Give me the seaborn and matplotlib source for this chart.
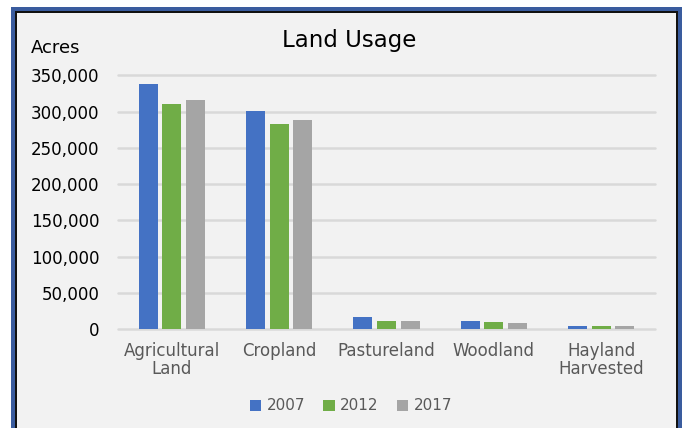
import matplotlib
matplotlib.use("Agg")
import matplotlib.pyplot as plt
from matplotlib.patches import Rectangle
from matplotlib.ticker import FuncFormatter
import seaborn as sns
import pandas as pd

# values (acres)
categories = ["Agricultural\nLand", "Cropland", "Pastureland", "Woodland", "Hayland\nHarvested"]
years = ["2007", "2012", "2017"]
acres_2007 = [337700, 300800, 17400, 11900, 4500]
acres_2012 = [310300, 282900, 11900, 10000, 4400]
acres_2017 = [315600, 288000, 11900, 8300, 4300]
colors = ["#4472C4", "#70AD47", "#A5A5A5"]

rows = []
for year, vals in zip(years, [acres_2007, acres_2012, acres_2017]):
    for cat, v in zip(categories, vals):
        rows.append({"category": cat, "year": year, "acres": v})
df = pd.DataFrame(rows)

sns.set_style("white")
plt.rcParams["font.family"] = ["DejaVu Sans"]

W, H = 683, 428
fig = plt.figure(figsize=(W / 100, H / 100), dpi=100, facecolor="white")

# frame: blue outer, black inner, grey fill (no bottom edge visible)
def px_rect(x0, y0, x1, color):
    fig.patches.append(Rectangle((x0 / W, -0.1), (x1 - x0) / W, 1 - y0 / H + 0.1,
                                 transform=fig.transFigure, facecolor=color,
                                 edgecolor="none", zorder=-10))

px_rect(11, 7, 682, "#3A5C9E")
px_rect(15, 11, 678, "#111111")
px_rect(17, 13, 676, "#F2F2F2")

ax = fig.add_axes([118 / W, 1 - 329.3 / H, 537 / W, 254 / H])
ax.set_facecolor("none")

sns.barplot(data=df, x="category", y="acres", hue="year", palette=colors,
            width=0.66, gap=0.2, ax=ax, saturation=1, edgecolor="none")

ax.set_ylim(0, 350000)
ax.set_yticks(range(0, 350001, 50000))
ax.yaxis.set_major_formatter(FuncFormatter(lambda v, p: f"{int(v):,}"))
ax.set_axisbelow(True)
ax.yaxis.grid(True, color="#D9D9D9", linewidth=1.8)
for gl in ax.get_ygridlines():
    gl.set_clip_on(False)
for s in ax.spines.values():
    s.set_visible(False)
ax.tick_params(axis="y", length=0, pad=13.5, labelsize=12, labelcolor="black")
ax.tick_params(axis="x", length=0, pad=9, labelsize=12, labelcolor="#595959")
for lab in ax.get_xticklabels():
    lab.set_linespacing(1.0)
ax.set_xlabel("")
ax.set_ylabel("")

fig.text(349 / W, 1 - 46.7 / H, "Land Usage", ha="center", va="baseline",
         fontsize=16.5, color="black")
fig.text(31 / W, 1 - 53.3 / H, "Acres", ha="left", va="baseline",
         fontsize=13, color="black")

ax.legend(loc="center", bbox_to_anchor=(351 / W, 1 - 406 / H),
          bbox_transform=fig.transFigure, ncol=3, frameon=False,
          fontsize=11, labelcolor="#595959", handlelength=0.75,
          handleheight=0.75, handletextpad=0.35, columnspacing=1.2)

fig.savefig("out.png", dpi=100, facecolor="white")
